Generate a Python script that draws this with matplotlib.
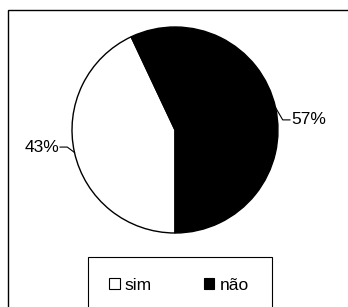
import numpy as np
import matplotlib.pyplot as plt
from matplotlib.patches import Rectangle, Patch

labels = ['sim', 'não']
values = [43, 57]
colors = ['white', 'black']

plt.rcParams['font.family'] = ['Liberation Sans', 'DejaVu Sans']

W, H = 348, 307
fig = plt.figure(figsize=(W / 100, H / 100), dpi=100)

def fx(px):
    return px / W

def fy(py):
    return 1 - py / H

# outer chart border (runs off the right/bottom edge)
fig.patches.append(Rectangle((fx(8), fy(330)), fx(400) - fx(8), fy(10) - fy(330),
                             transform=fig.transFigure, fill=False,
                             edgecolor='black', linewidth=1.0))

# pie axes: centre (175,130), radius 103 px
cx, cy, r = 175, 130, 103
ax = fig.add_axes([fx(cx - r), fy(cy + r), (2 * r) / W, (2 * r) / H])
wedges, _ = ax.pie(values, colors=colors, startangle=-90, counterclock=False,
                   wedgeprops=dict(edgecolor='black', linewidth=1.0))
ax.set_xlim(-1, 1)
ax.set_ylim(-1, 1)
ax.set_aspect('equal')
ax.axis('off')

# percentage labels with leader lines
for w, v in zip(wedges, values):
    mid = np.deg2rad((w.theta1 + w.theta2) / 2)
    x0, y0 = np.cos(mid), np.sin(mid)
    side = 1 if x0 > 0 else -1
    ty = y0 * 0.45 if side > 0 else y0 * 0.76
    x1 = x0 + side * 0.07
    x2 = x1 + side * 0.07
    ax.plot([x0, x1, x2], [y0, ty, ty], color='black', lw=0.8, clip_on=False)
    ax.text(x2 + side * 0.01, ty, '%d%%' % v, ha='left' if side > 0 else 'right',
            va='center', fontsize=12.5, clip_on=False)

# legend box
fig.patches.append(Rectangle((fx(88), fy(330)), fx(272) - fx(88), fy(257) - fy(330),
                             transform=fig.transFigure, fill=False,
                             edgecolor='black', linewidth=0.8))
handles = [Patch(facecolor=c, edgecolor='black', linewidth=0.8) for c in colors]
fig.legend(handles, labels, ncol=2, frameon=False, loc='center',
           bbox_to_anchor=(fx(179), fy(285)), fontsize=12.5,
           handlelength=0.6, handleheight=0.6, handletextpad=0.3,
           columnspacing=3.0)

fig.savefig('out.png', dpi=100)
